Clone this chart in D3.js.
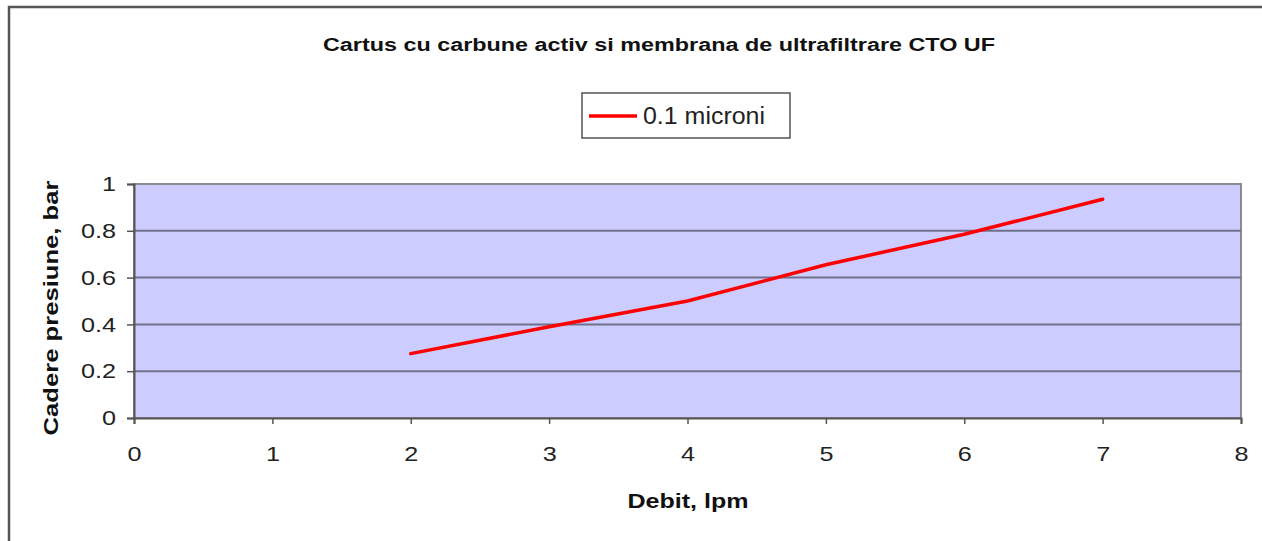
<!DOCTYPE html>
<html><head><meta charset="utf-8">
<script src="https://cdn.jsdelivr.net/npm/d3@7"></script>
<style>html,body{margin:0;padding:0;background:#fff;overflow:hidden}</style>
</head><body>
<svg id="chart" width="1262" height="541"></svg>
<script>
const title = "Cartus cu carbune activ si membrana de ultrafiltrare CTO UF";
const seriesName = "0.1 microni";
const xLabel = "Debit, lpm";
const yLabel = "Cadere presiune, bar";
const debit = [2, 3, 4, 5, 6, 7];
const cadere = [0.275, 0.39, 0.5, 0.655, 0.785, 0.935];
const xTicks = [0, 1, 2, 3, 4, 5, 6, 7, 8];
const yTicks = [0, 0.2, 0.4, 0.6, 0.8, 1];

const svg = d3.select("#chart");
const font = "'Liberation Sans', Arial, sans-serif";
const L = 134, R = 1241, T = 184, B = 418;

// outer frame
svg.append("rect").attr("x", 9).attr("y", 7).attr("width", 1300).attr("height", 600)
  .attr("fill", "#fff").attr("stroke", "#555").attr("stroke-width", 2.5);

const x = d3.scaleLinear().domain([0, 8]).range([L, R]);
const y = d3.scaleLinear().domain([0, 1]).range([B, T]);

// plot area
svg.append("rect").attr("x", L).attr("y", T).attr("width", R - L).attr("height", B - T)
  .attr("fill", "#ccccff").attr("stroke", "#8a8a95").attr("stroke-width", 2);

// gridlines
svg.append("g").selectAll("line").data(yTicks.filter(d => d > 0 && d < 1)).join("line")
  .attr("x1", L).attr("x2", R).attr("y1", d => y(d)).attr("y2", d => y(d))
  .attr("stroke", "#70708a").attr("stroke-width", 2);

// axes
const xAxis = svg.append("g").attr("transform", `translate(0,${B})`)
  .call(d3.axisBottom(x).tickValues(xTicks).tickFormat(d3.format("d")).tickSize(6).tickPadding(22));
const yAxis = svg.append("g").attr("transform", `translate(${L},0)`)
  .call(d3.axisLeft(y).tickValues(yTicks).tickFormat(d => d === 0 || d === 1 ? String(d) : d.toFixed(1)).tickSize(7).tickPadding(11));
[xAxis, yAxis].forEach(g => {
  g.attr("font-size", null);
  g.select(".domain").attr("stroke", "#555").attr("stroke-width", 2);
  g.selectAll(".tick line").attr("stroke", "#555").attr("stroke-width", 1.5);
  g.selectAll(".tick text").attr("font-family", font).style("font-size", "21px").attr("fill", "#222")
    .each(function () {
      const w = this.getComputedTextLength();
      d3.select(this).attr("textLength", w * 1.2).attr("lengthAdjust", "spacingAndGlyphs");
    });
});

// series line
svg.append("path").datum(debit.map((d, i) => [d, cadere[i]]))
  .attr("fill", "none").attr("stroke", "#ff0000").attr("stroke-width", 3.5)
  .attr("stroke-linecap", "round")
  .attr("d", d3.line().x(d => x(d[0])).y(d => y(d[1])));

// title
svg.append("text").attr("x", 659).attr("y", 51).attr("text-anchor", "middle")
  .attr("font-family", font).attr("font-weight", "bold").style("font-size", "18px")
  .attr("textLength", 672).attr("lengthAdjust", "spacingAndGlyphs").attr("fill", "#111")
  .text(title);

// legend
svg.append("rect").attr("x", 582).attr("y", 93).attr("width", 208).attr("height", 45)
  .attr("fill", "#fff").attr("stroke", "#555").attr("stroke-width", 1.5);
svg.append("line").attr("x1", 589).attr("x2", 637).attr("y1", 116).attr("y2", 116)
  .attr("stroke", "#ff0000").attr("stroke-width", 3.5);
svg.append("text").attr("x", 643).attr("y", 124)
  .attr("font-family", font).style("font-size", "23px").attr("fill", "#222")
  .attr("textLength", 122).attr("lengthAdjust", "spacingAndGlyphs")
  .text(seriesName);

// axis labels
svg.append("text").attr("x", 688).attr("y", 508).attr("text-anchor", "middle")
  .attr("font-family", font).attr("font-weight", "bold").style("font-size", "21px").attr("fill", "#111")
  .attr("textLength", 121).attr("lengthAdjust", "spacingAndGlyphs")
  .text(xLabel);
svg.append("text").attr("transform", "translate(58,308) rotate(-90)").attr("text-anchor", "middle")
  .attr("font-family", font).attr("font-weight", "bold").style("font-size", "21px").attr("fill", "#111")
  .attr("textLength", 255).attr("lengthAdjust", "spacingAndGlyphs")
  .text(yLabel);
</script>
</body></html>
